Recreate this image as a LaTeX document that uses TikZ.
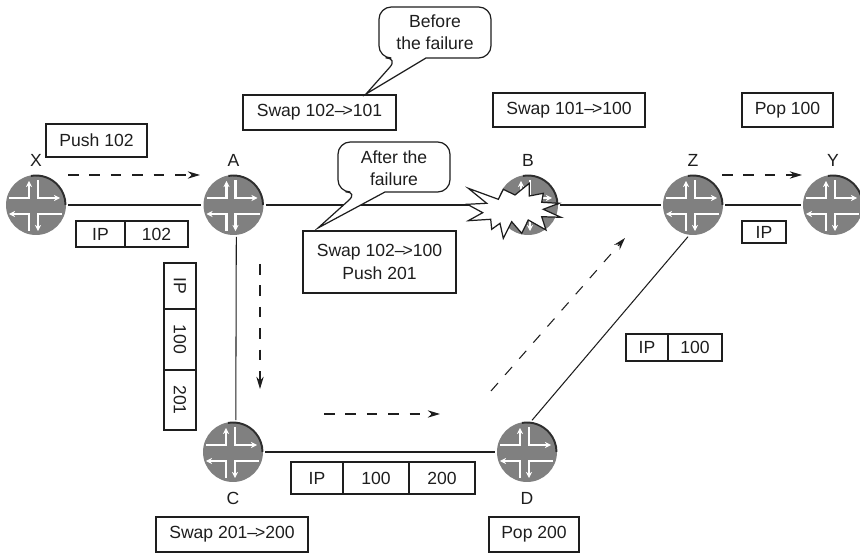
\documentclass[tikz,border=0pt]{standalone}
\usepackage{fontspec}
\setmainfont{Liberation Sans}
\usepackage{xcolor}
\usetikzlibrary{arrows.meta,positioning}
\definecolor{routerx}{HTML}{808080}
\definecolor{rimx}{HTML}{2E2E2E}
\definecolor{inkx}{HTML}{1E1E1E}
\def\pxu{0.02cm}
\newcommand{\lbl}{–\kern-0.12em>}
\tikzset{
  router/.style={circle,fill=routerx,minimum size=60*\pxu,inner sep=0pt,outer sep=1.2pt},
  routerpic/.pic={
    \draw[rimx,line width=1.1pt] (-100:29.5) arc (-100:0:29.5);
    \draw[white,line width=1.6pt,-{Stealth[length=3.5pt,width=3.6pt]}] (-27,-7)--(-7,-7)--(-7,-24);
    \draw[white,line width=1.6pt,-{Stealth[length=3.5pt,width=3.6pt]}] (2,-25)--(2,-7)--(24,-7);
    \draw[white,line width=1.6pt,-{Stealth[length=3.5pt,width=3.6pt]}] (-7,26)--(-7,9)--(-27,9);
    \draw[white,line width=1.6pt,-{Stealth[length=3.5pt,width=3.6pt]}] (26,9)--(2,9)--(2,26);
  },
  rlabel/.style={inner sep=0pt,text=inkx,font=\fontsize{10}{12.7}\selectfont},
  tbox/.style 2 args={draw=inkx,line width=0.75pt,fill=white,outer sep=0pt,inner sep=0pt,align=center,
    text=inkx,font=\fontsize{10}{12.9}\selectfont,minimum width=#1*\pxu,minimum height=#2*\pxu},
  link/.style={inkx,line width=0.6pt},
  flow/.style={inkx,line width=0.6pt,dash pattern=on 6pt off 6.2pt,-{Stealth[length=7pt,width=4.2pt]}},
  bubble/.style={draw=inkx,line width=0.7pt,fill=white},
  bubbletext/.style={inner sep=0pt,align=center,text=inkx,font=\fontsize{10}{12.7}\selectfont}
}
\begin{document}
\begin{tikzpicture}[x=0.02cm,y=-0.02cm]
\useasboundingbox (0,0) rectangle (860,553);
% routers
\foreach \rname/\rx/\ry in {X/36/205,A/233.5/205,B/528/205,Z/693/205,Y/833/205,C/233/452,D/527/452}{
  \node[router] (\rname) at (\rx,\ry) {};
  \pic at (\rname) {routerpic};
}
\foreach \rname in {X,A,B,Z,Y}
  \node[rlabel,above=3.5pt of \rname] (\rname lab) {\rname};
\foreach \rname in {C,D}
  \node[rlabel,below=4.5pt of \rname] (\rname lab) {\rname};
% links
\draw[link] (X.east)--(A.west);
\draw[link] (A.east)--(B.west);
\draw[link] (B.east)--(Z.west);
\draw[link] (Z.east)--(Y.west);
\draw[link] (A.-85)--(C.85);
\draw[link] (C.east)--(D.west);
\draw[link] (D.81)--(Z.261);
% label operations
\node[tbox={101}{33}] (pushX) at (96.5,140.5) {Push 102};
\node[tbox={153}{35}] (swapA) at (319.5,112.5) {Swap 102\lbl 101};
\node[tbox={152}{34}] (swapB) at (569,110) {Swap 101\lbl 100};
\node[tbox={91}{34}] (popZ) at (787.5,110) {Pop 100};
\node[tbox={152}{35}] (swapC) at (232,534.5) {Swap 201\lbl 200};
\node[tbox={90}{35}] (popD) at (534,534.5) {Pop 200};
% label stacks
\node[tbox={49}{26}] (xaIP) at (100.5,234) {IP};
\node[tbox={63}{26},right=0pt of xaIP] (xaTop) {102};
\node[tbox={52}{32}] (cdIP) at (317,478) {IP};
\node[tbox={66}{32},right=0pt of cdIP] (cdTop) {100};
\node[tbox={66}{32},right=0pt of cdTop] (cdBot) {200};
\node[tbox={42}{27}] (dzIP) at (647,347.5) {IP};
\node[tbox={54}{27},right=0pt of dzIP] (dzTop) {100};
\node[tbox={44}{22}] (zyIP) at (764,232) {IP};
\node[tbox={46}{32},rotate=-90] (acIP) at (180,286) {IP};
\node[tbox={61}{32},rotate=-90] (acTop) at (180,339.5) {100};
\node[tbox={60}{32},rotate=-90] (acBot) at (180,400) {201};
% traffic direction
\coordinate (xaFrom) at (68,175); \coordinate (xaTo) at (200,175);
\coordinate (zyFrom) at (722,175); \coordinate (zyTo) at (802,175);
\coordinate (acFrom) at (260,264); \coordinate (acTo) at (260,389);
\coordinate (cdFrom) at (324,414); \coordinate (cdTo) at (440,414);
\coordinate (dzFrom) at (491,391); \coordinate (dzTo) at (625,238);
\draw[flow] (xaFrom)--(xaTo);
\draw[flow] (zyFrom)--(zyTo);
\draw[flow] (acFrom)--(acTo);
\draw[flow] (cdFrom)--(cdTo);
\draw[flow] (dzFrom)--(dzTo);
% failure
\draw[bubble] (468.3,188.3)--(498.3,199.3)--(503.3,189.3)--(515,195)--(529.3,183.3)--(529.3,196)
  --(543.3,193.3)--(541.7,202.3)--(559,203.3)--(543.3,209.3)--(561,217.3)--(541.7,216.7)
  --(546,230)--(528.3,220)--(521.7,233.3)--(511.7,221.7)--(503.3,238.3)--(500,223.3)
  --(491.7,229.3)--(490.7,219.3)--(468.3,220.7)--(482.7,212.7)--(467.3,204.3)--(486.7,203.3)--cycle;
% callouts
\draw[bubble,line join=miter] (450,58)[rounded corners=7pt]--(491,58)--(491,7)--(379,7)--(379,58)--(398,58)[sharp corners]--(366,94)--(426,58)--cycle;
\node[bubbletext] (before) at (435,32) {Before\\the failure};
\draw[bubble,line join=miter] (420,192)[rounded corners=7pt]--(450,192)--(450,142)--(338,142)--(338,192)--(358,192)[sharp corners]--(318,228)--(385,192)--cycle;
\node[bubbletext] (after) at (394,168) {After the\\failure};
\node[tbox={153}{62}] (swapAfter) at (379.5,262) {Swap 102\lbl 100\\Push 201};
\end{tikzpicture}
\end{document}
